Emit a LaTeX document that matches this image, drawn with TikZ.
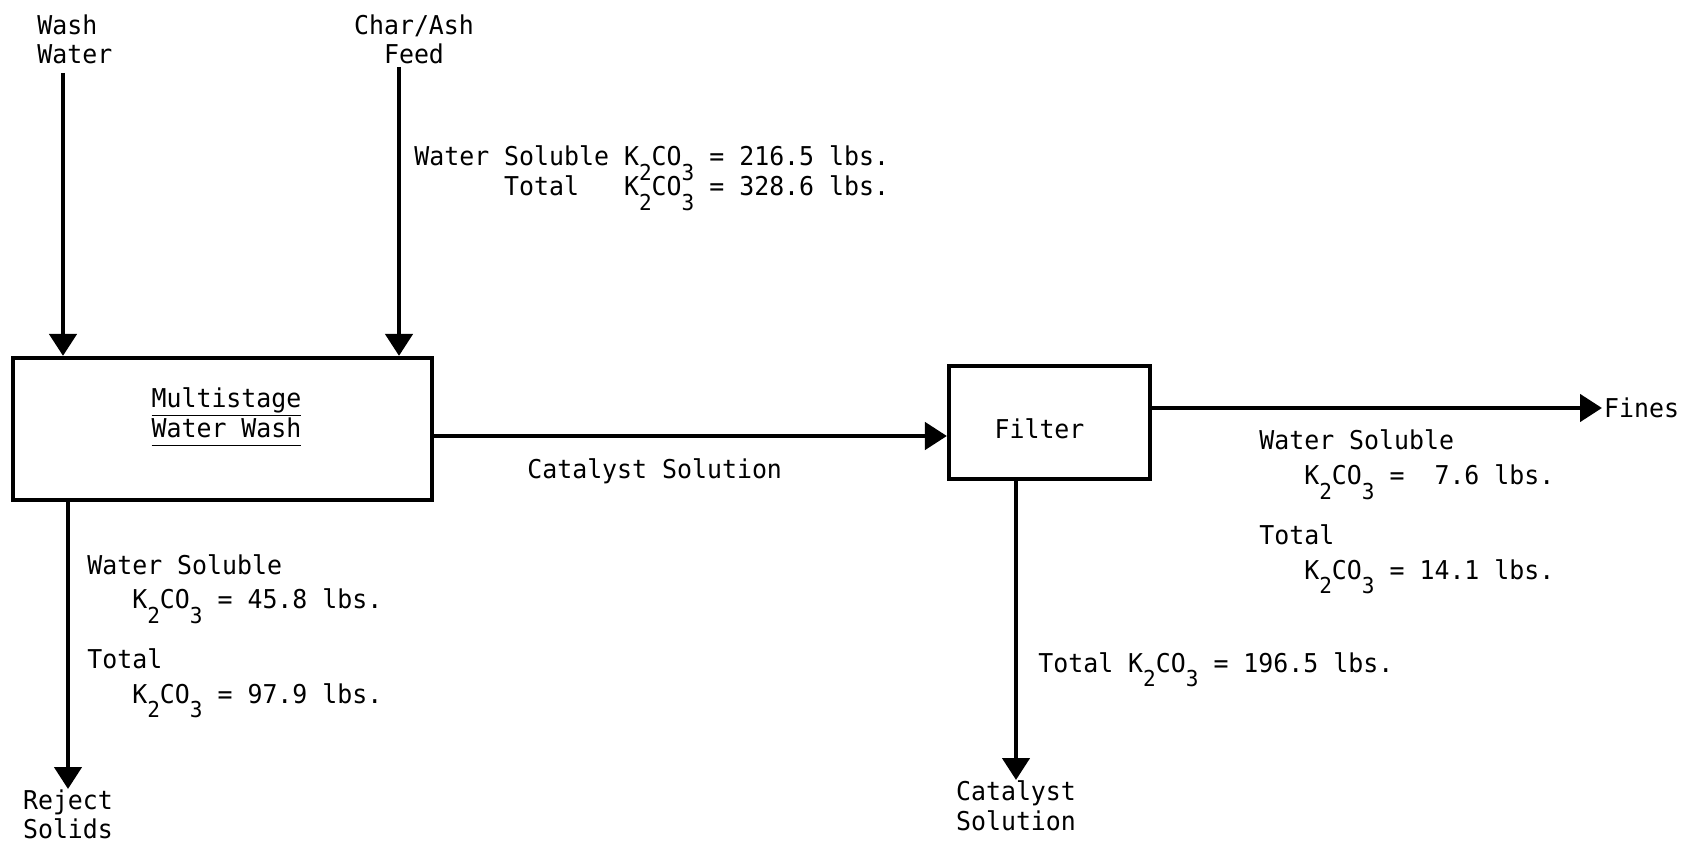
\documentclass[tikz,border=0pt]{standalone}
\usepackage{fontspec}
\setmonofont{DejaVu Sans Mono}[FakeStretch=0.96]
\usetikzlibrary{arrows.meta,positioning}
\newcommand{\sbs}[1]{\smash{\raisebox{-0.55em}{\fontsize{12.5}{12.5}\selectfont #1}}}
\newcommand{\kco}{K\sbs{2}CO\sbs{3}}
\newcommand{\ul}[1]{\underline{\vphantom{g}#1}}

\begin{document}
\begin{tikzpicture}[x=0.02cm, y=-0.02cm,
  font=\ttfamily\fontsize{14.75}{17}\selectfont,
  >={Triangle[width=5.4mm,length=4.4mm]},
  unit/.style={draw, line width=2.4pt, inner sep=0pt},
  flow/.style={->, line width=2.6pt},
  lbl/.style={inner sep=0pt, align=center},
  data/.style={inner sep=0pt, anchor=base west},
]
\useasboundingbox (0,0) rectangle (1696,847);
% process units
\node[unit, minimum width=8.38cm, minimum height=2.84cm] (wash) at (222.5,429) {};
\node[lbl] (washtxt) at ([xshift=0.08cm, yshift=0.24cm]wash.center)
  {\ul{Multistage}\\\ul{Water Wash}};
\node[unit, minimum width=4.02cm, minimum height=2.26cm] (filter) at (1049.5,422.5) {};
\node[lbl] (filtertxt) at ([xshift=-0.2cm, yshift=-0.12cm]filter.center) {Filter};
% stream labels
\node[lbl, anchor=north west, align=left] (washlbl) at (37,14) {Wash\\Water};
\node[lbl, anchor=north] (charlbl) at (414,14) {Char/Ash\\Feed};
\node[lbl, anchor=north] (reject) at (68,789) {Reject\\Solids};
\node[lbl, anchor=north] (catout) at (1016,780) {Catalyst\\Solution};
\node[lbl, anchor=west, inner sep=1pt] (fines) at (1602,408) {Fines};
\node[data] (catlbl) at (527,479) {Catalyst Solution};
% K2CO3 balances
\node[data] (feeddata) at (414,166) {\begin{tabular}[t]{@{}l@{ }l@{}}
  Water Soluble & \kco{} = 216.5 lbs.\\
  \phantom{xxxxxx}Total & \kco{} = 328.6 lbs.\end{tabular}};
\node[data] (rejdata) at (87,574) {\begin{tabular}[t]{@{}l@{}}
  Water Soluble\\[2.8pt]
  \phantom{xxx}\kco{} = 45.8 lbs.\\[17pt]
  Total\\[2.8pt]
  \phantom{xxx}\kco{} = 97.9 lbs.\end{tabular}};
\node[data] (finesdata) at (1259,450) {\begin{tabular}[t]{@{}l@{}}
  Water Soluble\\[2.8pt]
  \phantom{xxx}\kco{} = \phantom{1}7.6 lbs.\\[17pt]
  Total\\[2.8pt]
  \phantom{xxx}\kco{} = 14.1 lbs.\end{tabular}};
\node[data] (soldata) at (1038,672) {Total \kco{} = 196.5 lbs.};
% streams
\coordinate (washin) at (63,73);
\coordinate (charin) at (399,67);
\draw[flow] (washin) -- (washin |- wash.north);
\draw[flow] (charin) -- (charin |- wash.north);
\draw[flow] ([yshift=-0.14cm]wash.east) -- ([yshift=-0.14cm]wash.east -| filter.west);
\draw[flow] (filter.east |- fines.west) -- (fines.west);
\draw[flow] (filter.south -| catout.north) -- (catout.north);
\draw[flow] (wash.south -| reject.north) -- (reject.north);
\end{tikzpicture}
\end{document}
